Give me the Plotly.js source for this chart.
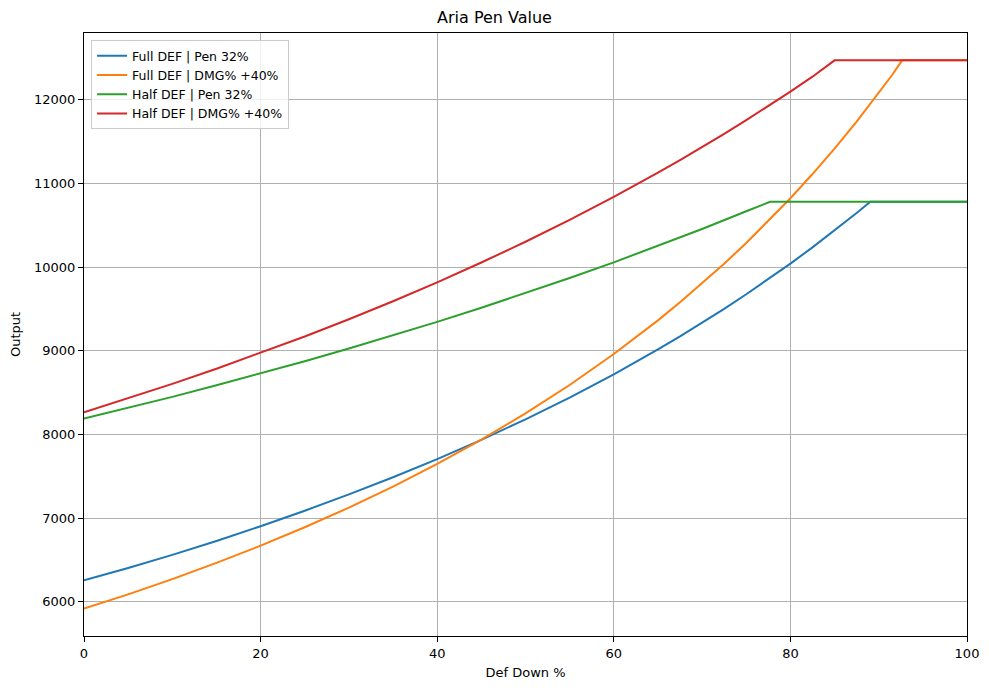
<!DOCTYPE html>
<html>
<head>
<meta charset="utf-8">
<script src="https://cdn.plot.ly/plotly-3.0.1.min.js"></script>
<style>html,body{margin:0;padding:0;background:#fff;}#chart{width:989px;height:690px;}</style>
</head>
<body>
<div id="chart"></div>
<script>
// Def Down % sample points
const defDownFull = [0,5,10,15,20,25,30,35,40,45,50,55,60,62.5,65,67.5,70,72.5,75,77.5,80,82.5,85,87.5,89.05,90,95,100];
const fullPen = [6260,6405,6562,6728,6905,7090,7285,7490,7706,7937,8182,8442,8720,8866,9017,9173,9335,9502,9676,9855,10042,10236,10438,10647,10780,10780,10780,10780];

const defDownFullDmg = [0,5,10,15,20,25,30,35,40,45,50,55,60,62.5,65,67.5,70,72.5,75,77.5,80,82.5,85,87.5,90,91.5,92.65,95,100];
const fullDmg = [5920,6090,6272,6466,6672,6892,7127,7378,7648,7939,8252,8592,8962,9159,9364,9580,9805,10041,10289,10550,10823,11112,11416,11738,12077,12292,12470,12470,12470];

const defDownHalf = [0,5,10,15,20,25,30,35,40,45,50,55,60,65,70,75,77.7,80,85,90,95,100];
const halfPen = [8190,8318,8450,8588,8729,8876,9027,9184,9346,9514,9689,9870,10057,10252,10455,10667,10780,10780,10780,10780,10780,10780];

const defDownHalfDmg = [0,5,10,15,20,25,30,35,40,45,50,55,60,62.5,65,67.5,70,72.5,75,77.5,80,82.5,85,90,95,100];
const halfDmg = [8265,8432,8605,8786,8974,9171,9377,9592,9818,10055,10303,10564,10839,10982,11128,11279,11434,11593,11756,11924,12097,12275,12470,12470,12470,12470];

const seriesNames = ["Full DEF | Pen 32%", "Full DEF | DMG% +40%", "Half DEF | Pen 32%", "Half DEF | DMG% +40%"];
const xTicks = [0,20,40,60,80,100];
const yTicks = [6000,7000,8000,9000,10000,11000,12000];

const colors = ["#1f77b4","#ff7f0e","#2ca02c","#d62728"];
const xs = [defDownFull, defDownFullDmg, defDownHalf, defDownHalfDmg];
const ys = [fullPen, fullDmg, halfPen, halfDmg];

const data = seriesNames.map((n,i)=>({
  x: xs[i], y: ys[i], name: n, type: 'scatter', mode: 'lines',
  line: {color: colors[i], width: 2}
}));

const font = "DejaVu Sans, sans-serif";
const axisCommon = {
  showline: true, linecolor: '#000', linewidth: 1, mirror: true,
  ticks: 'outside', ticklen: 5, tickwidth: 1, tickcolor: '#000',
  showgrid: true, gridcolor: '#b0b0b0', gridwidth: 1,
  zeroline: false, tickfont: {family: font, size: 13, color: '#000'}
};

const layout = {
  width: 989, height: 690,
  paper_bgcolor: '#fff', plot_bgcolor: '#fff',
  margin: {l: 84, r: 22, t: 33, b: 54},
  title: {text: 'Aria Pen Value', font: {family: font, size: 16, color: '#000'}, x: 0.5, xanchor: 'center', y: 0.975, yanchor: 'middle'},
  xaxis: Object.assign({}, axisCommon, {
    range: [0, 100], tickvals: xTicks, ticktext: xTicks.map(String),
    title: {text: 'Def Down %', font: {family: font, size: 13, color: '#000'}, standoff: 8}
  }),
  yaxis: Object.assign({}, axisCommon, {
    range: [5593, 12797], tickvals: yTicks, ticktext: yTicks.map(String),
    title: {text: 'Output', font: {family: font, size: 13, color: '#000'}, standoff: 10}
  }),
  showlegend: true,
  legend: {
    x: 0.008, y: 0.988, xanchor: 'left', yanchor: 'top',
    bgcolor: 'rgba(255,255,255,0.8)', bordercolor: '#cccccc', borderwidth: 1,
    font: {family: font, size: 12.5, color: '#000'}, itemwidth: 30, tracegroupgap: 0
  }
};

Plotly.newPlot('chart', data, layout, {displayModeBar: false, staticPlot: true});
</script>
</body>
</html>
